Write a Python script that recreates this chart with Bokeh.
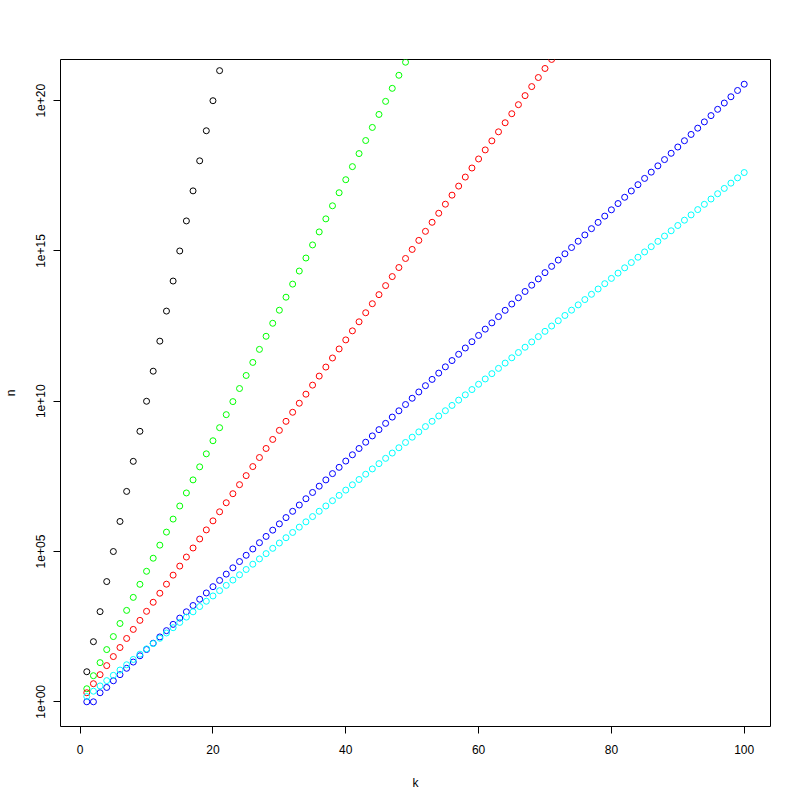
from bokeh.plotting import figure
from bokeh.models import Range1d, FixedTicker
from bokeh.embed import file_html
from bokeh.resources import INLINE

# ---- data ----
k_black = list(range(1, 22))
n_black = [1e1, 1e2, 1e3, 1e4, 1e5, 1e6, 1e7, 1e8, 1e9, 1e10,
           1e11, 1e12, 1e13, 1e14, 1e15, 1e16, 1e17, 1e18, 1e19, 1e20, 1e21]

k_green = list(range(1, 50))
n_green = [2.72, 7.39, 20.1, 54.6, 148, 403, 1.10e3, 2.98e3, 8.10e3, 2.20e4,
           5.99e4, 1.63e5, 4.42e5, 1.20e6, 3.27e6, 8.89e6, 2.42e7, 6.57e7, 1.78e8, 4.85e8,
           1.32e9, 3.58e9, 9.74e9, 2.65e10, 7.20e10, 1.96e11, 5.32e11, 1.45e12, 3.93e12, 1.07e13,
           2.90e13, 7.90e13, 2.15e14, 5.83e14, 1.59e15, 4.31e15, 1.17e16, 3.19e16, 8.66e16, 2.35e17,
           6.40e17, 1.74e18, 4.73e18, 1.29e19, 3.49e19, 9.50e19, 2.58e20, 7.02e20, 1.91e21]

k_red = list(range(1, 72))
n_red = [2, 4, 8, 16, 32, 64, 128, 256, 512, 1024,
         2048, 4096, 8192, 16384, 32768, 65536, 131072, 262144, 524288, 1048576,
         2097152, 4194304, 8388608, 16777216, 33554432, 67108864, 134217728, 268435456, 536870912, 1.074e9,
         2.147e9, 4.295e9, 8.590e9, 1.718e10, 3.436e10, 6.872e10, 1.374e11, 2.749e11, 5.498e11, 1.100e12,
         2.199e12, 4.398e12, 8.796e12, 1.759e13, 3.518e13, 7.037e13, 1.407e14, 2.815e14, 5.630e14, 1.126e15,
         2.252e15, 4.504e15, 9.007e15, 1.801e16, 3.603e16, 7.206e16, 1.441e17, 2.882e17, 5.765e17, 1.153e18,
         2.306e18, 4.612e18, 9.223e18, 1.845e19, 3.689e19, 7.379e19, 1.476e20, 2.951e20, 5.903e20, 1.181e21,
         2.361e21]

k_blue = list(range(1, 101))
n_blue = [1, 1, 2, 3, 5, 8, 13, 21, 34, 55,
          89, 144, 233, 377, 610, 987, 1597, 2584, 4181, 6765,
          10946, 17711, 28657, 46368, 75025, 121393, 196418, 317811, 514229, 832040,
          1.346e6, 2.178e6, 3.525e6, 5.703e6, 9.227e6, 1.493e7, 2.416e7, 3.909e7, 6.325e7, 1.023e8,
          1.656e8, 2.679e8, 4.335e8, 7.014e8, 1.135e9, 1.836e9, 2.971e9, 4.808e9, 7.779e9, 1.259e10,
          2.037e10, 3.295e10, 5.332e10, 8.627e10, 1.396e11, 2.259e11, 3.654e11, 5.913e11, 9.567e11, 1.548e12,
          2.505e12, 4.053e12, 6.557e12, 1.061e13, 1.717e13, 2.778e13, 4.495e13, 7.272e13, 1.177e14, 1.904e14,
          3.081e14, 4.985e14, 8.065e14, 1.305e15, 2.111e15, 3.416e15, 5.528e15, 8.944e15, 1.447e16, 2.342e16,
          3.789e16, 6.131e16, 9.919e16, 1.605e17, 2.597e17, 4.202e17, 6.799e17, 1.100e18, 1.780e18, 2.880e18,
          4.660e18, 7.540e18, 1.220e19, 1.974e19, 3.194e19, 5.168e19, 8.362e19, 1.353e20, 2.189e20, 3.542e20]

k_cyan = list(range(1, 101))
n_cyan = [1.5, 2.25, 3.375, 5.063, 7.594, 11.39, 17.09, 25.63, 38.44, 57.67,
          86.50, 129.7, 194.6, 291.9, 437.9, 656.8, 985.3, 1478, 2217, 3325,
          4988, 7482, 1.122e4, 1.683e4, 2.525e4, 3.788e4, 5.682e4, 8.522e4, 1.278e5, 1.918e5,
          2.876e5, 4.314e5, 6.472e5, 9.707e5, 1.456e6, 2.184e6, 3.276e6, 4.914e6, 7.372e6, 1.106e7,
          1.659e7, 2.488e7, 3.732e7, 5.598e7, 8.397e7, 1.260e8, 1.889e8, 2.834e8, 4.251e8, 6.376e8,
          9.564e8, 1.435e9, 2.152e9, 3.228e9, 4.842e9, 7.263e9, 1.089e10, 1.634e10, 2.451e10, 3.677e10,
          5.515e10, 8.273e10, 1.241e11, 1.861e11, 2.792e11, 4.188e11, 6.282e11, 9.423e11, 1.414e12, 2.120e12,
          3.180e12, 4.771e12, 7.156e12, 1.073e13, 1.610e13, 2.415e13, 3.623e13, 5.434e13, 8.151e13, 1.223e14,
          1.834e14, 2.751e14, 4.126e14, 6.190e14, 9.284e14, 1.393e15, 2.089e15, 3.134e15, 4.700e15, 7.050e15,
          1.058e16, 1.586e16, 2.380e16, 3.569e16, 5.354e16, 8.031e16, 1.205e17, 1.807e17, 2.710e17, 4.066e17]

x_ticks = [0, 20, 40, 60, 80, 100]
y_ticks = [1e0, 1e5, 1e10, 1e15, 1e20]
y_tick_labels = ["1e+00", "1e+05", "1e+10", "1e+15", "1e+20"]

x_label = "k"
y_label = "n"

FONT = "Liberation Sans"

p = figure(width=792, height=792, y_axis_type="log",
           output_backend="svg", toolbar_location=None,
           x_range=Range1d(-2.96, 103.96),
           y_range=Range1d(10 ** -0.822, 10 ** 21.371),
           min_border_left=59, min_border_right=22,
           min_border_top=59, min_border_bottom=66,
           background_fill_color="white", border_fill_color="white")

p.xgrid.visible = False
p.ygrid.visible = False
p.outline_line_color = "black"
p.outline_line_width = 1
p.outline_line_alpha = 1

p.xaxis.ticker = FixedTicker(ticks=x_ticks)
p.yaxis.ticker = FixedTicker(ticks=y_ticks)
p.yaxis.major_label_overrides = {t: s for t, s in zip(y_ticks, y_tick_labels)}

for ax in (p.xaxis[0], p.yaxis[0]):
    ax.axis_line_color = None
    ax.major_tick_in = 0
    ax.major_tick_out = 7
    ax.major_tick_line_color = "black"
    ax.minor_tick_line_color = None
    ax.major_label_text_font = FONT
    ax.major_label_text_font_size = "12px"
    ax.major_label_text_color = "black"
    ax.axis_label_text_font = FONT
    ax.axis_label_text_font_size = "12px"
    ax.axis_label_text_font_style = "normal"
    ax.axis_label_text_color = "black"

p.xaxis.axis_label = x_label
p.yaxis.axis_label = y_label
p.yaxis.major_label_orientation = "vertical"
p.xaxis.major_label_standoff = 11
p.yaxis.major_label_standoff = 8
p.xaxis.axis_label_standoff = 19
p.yaxis.axis_label_standoff = 16

series = [
    (k_blue, n_blue, "#0000FF"),
    (k_black, n_black, "#000000"),
    (k_green, n_green, "#00FF00"),
    (k_red, n_red, "#FF0000"),
    (k_cyan, n_cyan, "#00FFFF"),
]
for xs, ys, col in series:
    p.scatter(xs, ys, marker="circle", size=6, fill_color=None,
              line_color=col, line_width=1)

open("out.html", "w").write(file_html(p, INLINE))
